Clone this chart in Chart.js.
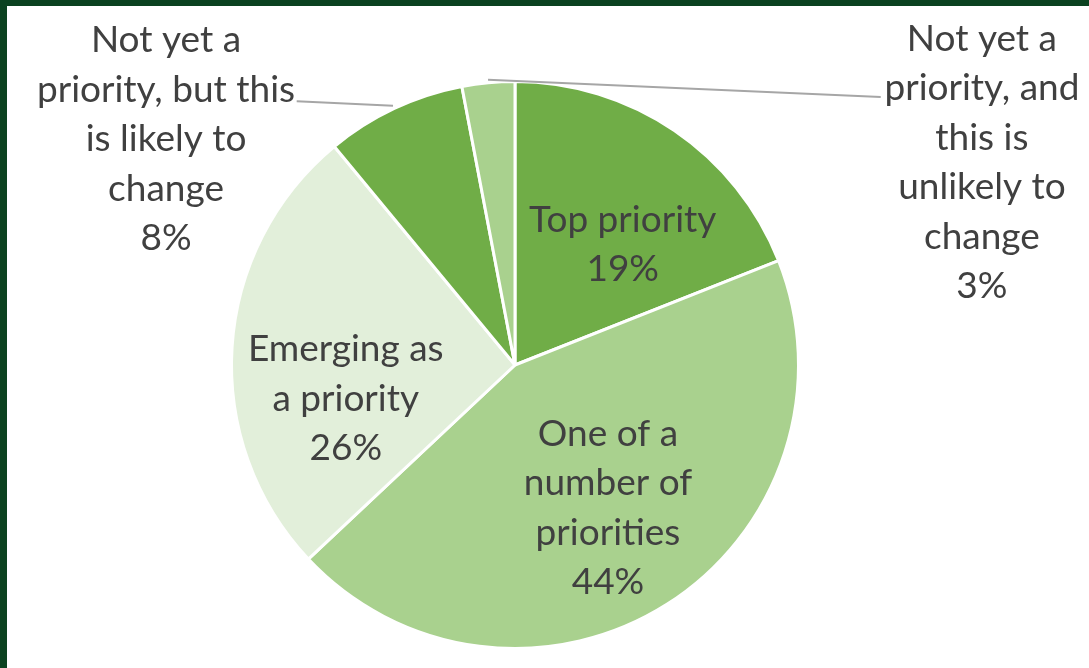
<!DOCTYPE html>
<html>
<head>
<meta charset="utf-8">
<title>Priority pie</title>
<script src="https://cdn.jsdelivr.net/npm/chart.js@4/dist/chart.umd.min.js"></script>
<style>
  html, body { margin: 0; padding: 0; background: #ffffff; }
  #wrap { width: 1089px; height: 668px; position: relative; }
</style>
</head>
<body>
<div id="wrap"><canvas id="chart" width="1089" height="668"></canvas></div>
<script>
// Survey answers, one slice each, clockwise from 12 o'clock
const categories = [
  ["Top priority"],
  ["One of a", "number of", "priorities"],
  ["Emerging as", "a priority"],
  ["Not yet a", "priority, but this", "is likely to", "change"],
  ["Not yet a", "priority, and", "this is", "unlikely to", "change"]
];
const values = [19, 44, 26, 8, 3];
const sliceColors = ["#70ad47", "#a9d18e", "#e2efda", "#70ad47", "#a9d18e"];

// Where each label block sits, as offsets from the pie centre in radii,
// plus an optional leader line end (also in radii) for the labels outside.
const labelLayout = [
  { dx: 0.38,  dy: -0.425 },
  { dx: 0.328, dy: 0.505 },
  { dx: -0.597, dy: 0.12 },
  { dx: -1.231, dy: -0.796, leader: { x: -0.77, y: -0.93 } },
  { dx: 1.647, dy: -0.714, leader: { x: 1.29,  y: -0.945 } }
];

const FONT = '37px Lato, "Open Sans", sans-serif';
const LINE_H = 49.5;
const TEXT_COLOR = "#404040";

const frame = {
  id: "frame",
  beforeDraw(chart) {
    const ctx = chart.ctx;
    ctx.save();
    ctx.fillStyle = "#ffffff";
    ctx.fillRect(0, 0, chart.width, chart.height);
    ctx.fillStyle = "#0b4220";
    ctx.fillRect(0, 0, chart.width, 6);
    ctx.fillRect(0, 0, 7, chart.height);
    ctx.restore();
  }
};

const sliceLabels = {
  id: "sliceLabels",
  afterDatasetsDraw(chart) {
    const ctx = chart.ctx;
    const meta = chart.getDatasetMeta(0);
    const total = values.reduce((a, b) => a + b, 0);
    ctx.save();
    ctx.font = FONT;
    ctx.fillStyle = TEXT_COLOR;
    ctx.textAlign = "center";
    ctx.textBaseline = "middle";
    meta.data.forEach((arc, i) => {
      const cx = arc.x, cy = arc.y, R = arc.outerRadius;
      const lay = labelLayout[i];
      const lines = categories[i].concat([Math.round(values[i] / total * 100) + "%"]);
      const bx = cx + lay.dx * R;
      const by = cy + lay.dy * R;
      const top = by - (lines.length - 1) * LINE_H / 2;

      if (lay.leader) {
        const mid = (arc.startAngle + arc.endAngle) / 2;
        const sx = cx + Math.cos(mid) * (R + 3);
        const sy = cy + Math.sin(mid) * (R + 3);
        ctx.save();
        ctx.strokeStyle = "#a6a6a6";
        ctx.lineWidth = 2;
        ctx.beginPath();
        ctx.moveTo(sx, sy);
        ctx.lineTo(cx + lay.leader.x * R, cy + lay.leader.y * R);
        ctx.stroke();
        ctx.restore();
      }

      lines.forEach((t, k) => ctx.fillText(t, bx, top + k * LINE_H));
    });
    ctx.restore();
  }
};

new Chart(document.getElementById("chart"), {
  type: "pie",
  data: {
    labels: categories,
    datasets: [{
      data: values,
      backgroundColor: sliceColors,
      borderColor: "#ffffff",
      borderWidth: 3
    }]
  },
  options: {
    responsive: false,
    devicePixelRatio: 1,
    animation: false,
    layout: { padding: { top: 80, bottom: 18, left: 230, right: 289 } },
    plugins: {
      legend: { display: false },
      tooltip: { enabled: false }
    }
  },
  plugins: [frame, sliceLabels]
});
</script>
</body>
</html>
